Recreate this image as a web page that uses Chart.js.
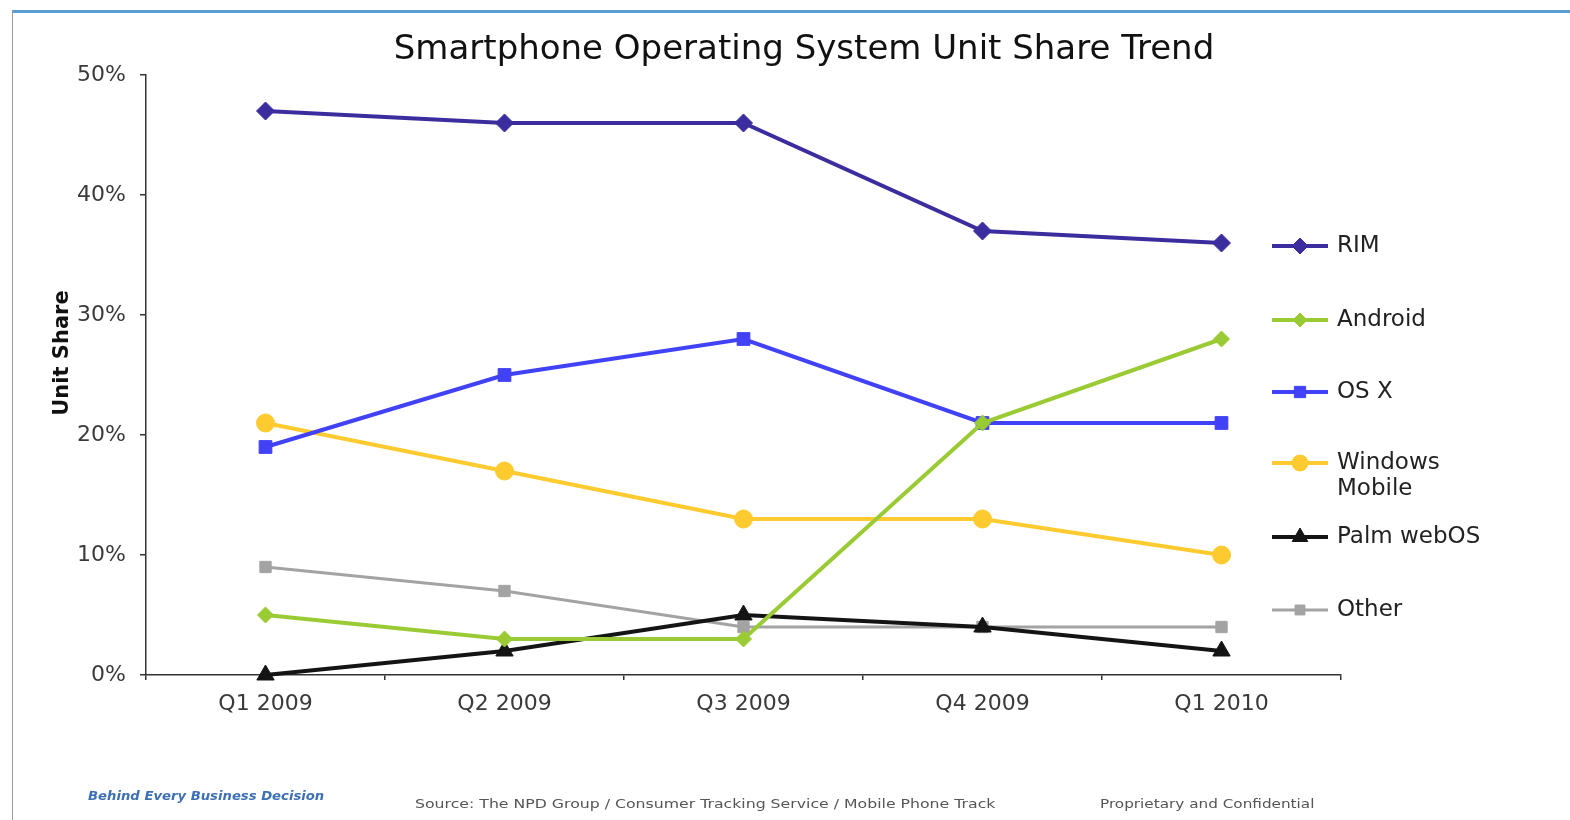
<!DOCTYPE html>
<html lang="en">
<head>
    <meta charset="UTF-8">
    <title>Smartphone Operating System Unit Share Trend</title>
    <script src="https://cdn.jsdelivr.net/npm/chart.js"></script>
    <style>
        body { margin: 0; background: #fff; width: 1570px; height: 820px; overflow: hidden; position: relative; }
        .frame { position: absolute; left: 12px; top: 10px; right: 0; bottom: 0;
            border-top: 3px solid #5a9fd4; border-left: 1px solid #9a9a9a; }
        #chart { position: absolute; left: 0; top: 0; }
        .foot { position: absolute; font-family: "DejaVu Sans", sans-serif; font-size: 12px; color: #555; white-space: nowrap; transform-origin: left center; }
    </style>
</head>
<body>
<div class="frame"></div>
<canvas id="chart" width="1570" height="820"></canvas>
<div class="foot" style="left:88px; top:789px; color:#3d6fb3; font-weight:bold; font-style:italic; transform:scaleX(1.1);">Behind Every Business Decision</div>
<div class="foot" style="left:415px; top:797px; transform:scaleX(1.31);">Source: The NPD Group / Consumer Tracking Service / Mobile Phone Track</div>
<div class="foot" style="left:1100px; top:797px; transform:scaleX(1.27);">Proprietary and Confidential</div>
<script>
    var quarters = ["Q1 2009", "Q2 2009", "Q3 2009", "Q4 2009", "Q1 2010"];
    var rim = [47, 46, 46, 37, 36];
    var android = [5, 3, 3, 21, 28];
    var osx = [19, 25, 28, 21, 21];
    var windowsMobile = [21, 17, 13, 13, 10];
    var palm = [0, 2, 5, 4, 2];
    var other = [9, 7, 4, 4, 4];
    var yTicks = [0, 10, 20, 30, 40, 50];

    var font = "DejaVu Sans";
    var textColor = "#3a3a3a";

    function series(label, data, color, style, radius, width) {
        return {
            label: label,
            data: data,
            borderColor: color,
            backgroundColor: color,
            pointBackgroundColor: color,
            pointBorderColor: color,
            pointStyle: style,
            pointRadius: radius,
            pointHoverRadius: radius,
            pointBorderWidth: 1,
            borderWidth: width,
            tension: 0,
            clip: false
        };
    }

    // hand-drawn title, axis title and legend, placed like the slide
    var slideExtras = {
        id: "slideExtras",
        afterDraw: function(chart) {
            var ctx = chart.ctx;
            ctx.save();
            ctx.fillStyle = "#111";
            ctx.font = "34px '" + font + "'";
            ctx.textAlign = "center";
            ctx.textBaseline = "middle";
            ctx.fillText("Smartphone Operating System Unit Share Trend", 804, 50);

            ctx.save();
            ctx.translate(63, 353);
            ctx.rotate(-Math.PI / 2);
            ctx.font = "bold 21px '" + font + "'";
            ctx.fillText("Unit Share", 0, 0);
            ctx.restore();

            var rows = [246, 320, 392, 463, 537, 610];
            ctx.font = "23px '" + font + "'";
            ctx.textAlign = "left";
            chart.data.datasets.forEach(function(ds, i) {
                var y = rows[i];
                ctx.strokeStyle = ds.borderColor;
                ctx.lineWidth = ds.borderWidth;
                ctx.beginPath();
                ctx.moveTo(1272, y);
                ctx.lineTo(1328, y);
                ctx.stroke();
                ctx.fillStyle = ds.borderColor;
                ctx.lineWidth = 1;
                Chart.helpers.drawPoint(ctx, {pointStyle: ds.pointStyle, radius: ds.pointRadius - 1, rotation: 0, borderWidth: 1}, 1300, y);
                ctx.fillStyle = "#222";
                var lines = ds.label.split("\n");
                lines.forEach(function(t, k) {
                    ctx.fillText(t, 1337, y + k * 26);
                });
            });
            ctx.restore();
        }
    };

    new Chart(document.getElementById("chart"), {
        type: "line",
        data: {
            labels: quarters,
            datasets: [
                series("RIM", rim, "#3c2d9f", "rectRot", 9, 4),
                series("Android", android, "#9acb34", "rectRot", 8, 4),
                series("OS X", osx, "#4141f5", "rect", 9, 4),
                series("Windows\nMobile", windowsMobile, "#fdcb2f", "circle", 9, 4),
                series("Palm webOS", palm, "#141414", "triangle", 10, 4),
                series("Other", other, "#a3a3a3", "rect", 8, 3)
            ]
        },
        options: {
            responsive: false,
            animation: false,
            layout: { padding: { left: 0, right: 229, top: 75, bottom: 0 } },
            plugins: {
                legend: { display: false },
                title: { display: false },
                tooltip: { enabled: false }
            },
            scales: {
                x: {
                    offset: true,
                    afterFit: function(s) { s.height = 145; },
                    grid: { offset: true, drawOnChartArea: false, drawTicks: true, tickLength: 5, color: "#333", lineWidth: 1.5 },
                    border: { display: true, color: "#333", width: 1.5 },
                    ticks: { color: textColor, font: { family: font, size: 22 }, padding: 11 }
                },
                y: {
                    min: 0,
                    max: 50,
                    afterFit: function(s) { s.width = 146; },
                    afterBuildTicks: function(s) { s.ticks = yTicks.map(function(v) { return { value: v }; }); },
                    grid: { drawOnChartArea: false, drawTicks: true, tickLength: 6, color: "#333", lineWidth: 1.5 },
                    border: { display: true, color: "#333", width: 1.5 },
                    ticks: {
                        color: textColor,
                        font: { family: font, size: 22 },
                        padding: 14,
                        callback: function(v) { return v + "%"; }
                    }
                }
            }
        },
        plugins: [slideExtras]
    });
</script>
</body>
</html>
